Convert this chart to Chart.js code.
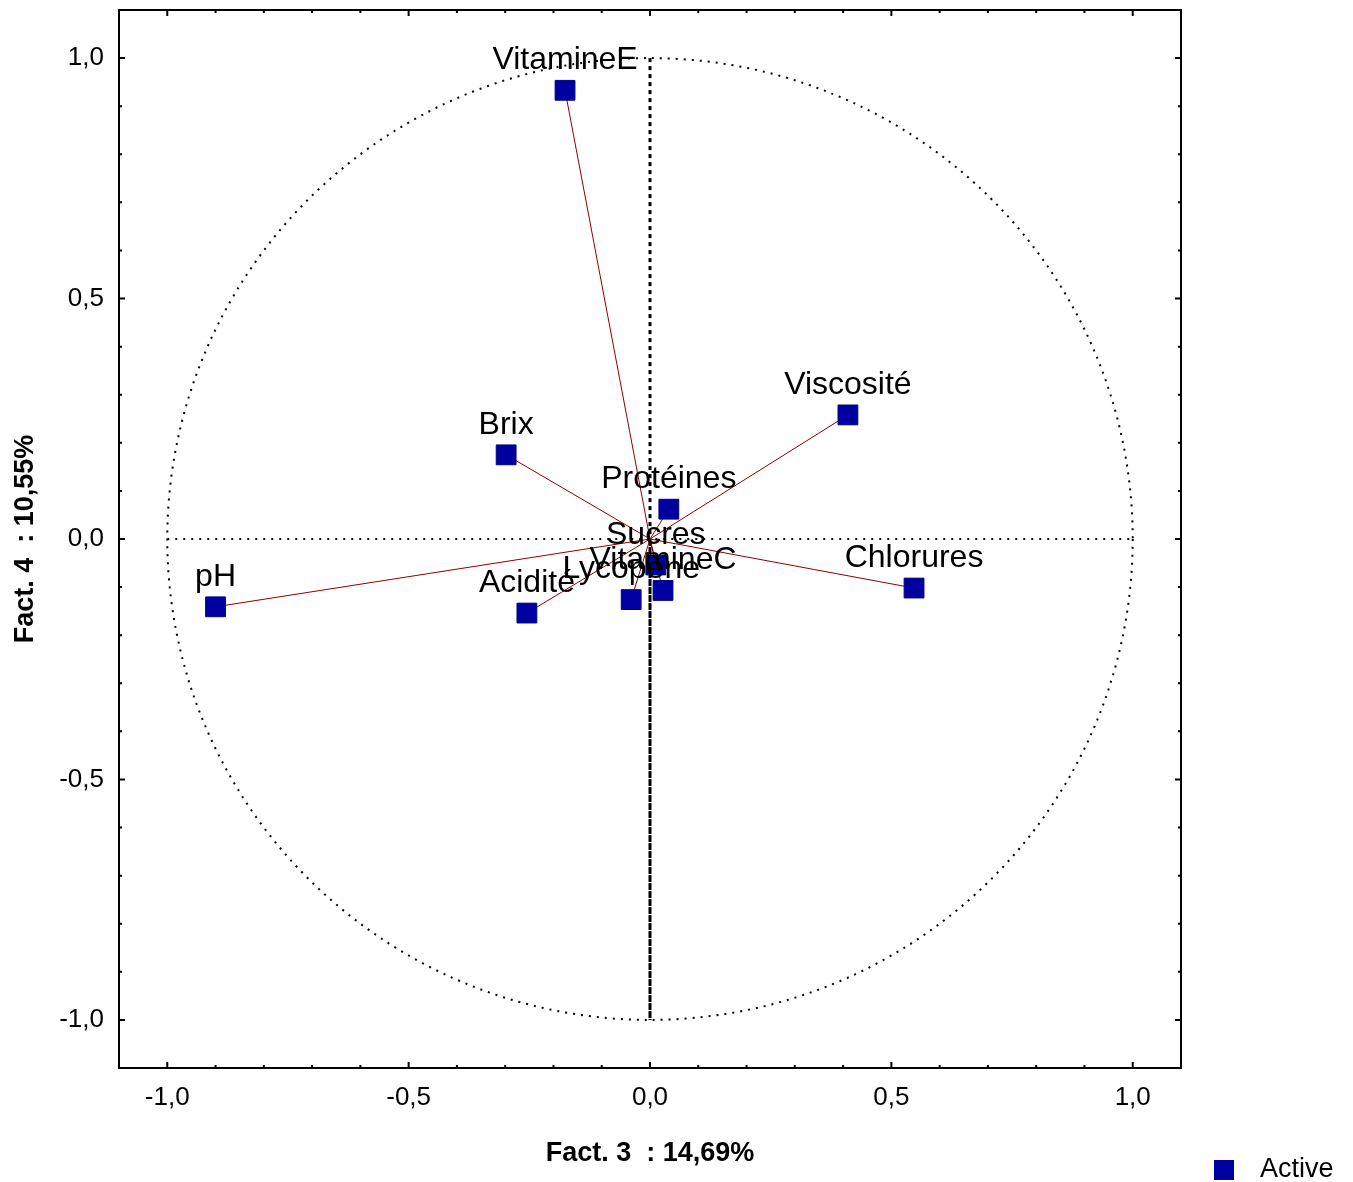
<!DOCTYPE html>
<html>
<head>
<meta charset="utf-8">
<script src="https://cdn.jsdelivr.net/npm/chart.js@4.4.0/dist/chart.umd.min.js"></script>
<style>
  html, body { margin: 0; padding: 0; background: #fff; }
  #wrap { width: 1353px; height: 1182px; }
</style>
</head>
<body>
<div id="wrap"><canvas id="chart" width="1353" height="1182"></canvas></div>
<script>
"use strict";

// variable names and their coordinates on factors 3 and 4
const NAMES = ["VitamineE", "Viscosité", "Brix", "Protéines", "Sucres", "VitamineC", "Lycopène", "Chlorures", "pH", "Acidité"];
const FACT3 = [-0.176, 0.410, -0.298, 0.039, 0.012, 0.027, -0.039, 0.547, -0.900, -0.255];
const FACT4 = [0.933, 0.258, 0.175, 0.062, -0.054, -0.107, -0.126, -0.102, -0.141, -0.154];

const X_TICKS = [-1.0, -0.5, 0.0, 0.5, 1.0];
const Y_TICKS = [-1.0, -0.5, 0.0, 0.5, 1.0];
const AXIS_MIN = -1.1, AXIS_MAX = 1.1;

const X_TITLE = "Fact. 3  : 14,69%";
const Y_TITLE = "Fact. 4  : 10,55%";
const SERIES_LABEL = "Active";

const BLUE = "#0000a0";
const RED = "#8b0000";
const FONT = "Arial, 'Liberation Sans', sans-serif";

const fmt = (v) => v.toFixed(1).replace(".", ",");

// one segment from the origin to each variable
const vectorSets = NAMES.map((n, i) => ({
  type: "line",
  label: "_" + n,
  data: [{ x: 0, y: 0 }, { x: FACT3[i], y: FACT4[i] }],
  borderColor: RED,
  borderWidth: 1,
  pointRadius: 0,
  fill: false,
  order: 2,
}));

const pointSet = {
  type: "scatter",
  label: SERIES_LABEL,
  data: NAMES.map((n, i) => ({ x: FACT3[i], y: FACT4[i] })),
  pointStyle: "rect",
  pointRadius: 14,
  pointHoverRadius: 14,
  backgroundColor: BLUE,
  borderColor: "#000080",
  borderWidth: 1,
  order: 1,
};

// unit circle, axis cross, frame with inward ticks
const decor = {
  id: "decor",
  beforeDatasetsDraw(chart) {
    const { ctx, scales: { x, y } } = chart;
    const cx = x.getPixelForValue(0), cy = y.getPixelForValue(0);
    const rx = x.getPixelForValue(1) - cx, ry = cy - y.getPixelForValue(1);
    ctx.save();
    ctx.strokeStyle = "#000";

    ctx.lineWidth = 2;
    ctx.setLineDash([2, 6]);
    ctx.beginPath();
    ctx.ellipse(cx, cy, rx, ry, 0, 0, Math.PI * 2);
    ctx.stroke();

    ctx.beginPath();
    ctx.moveTo(x.getPixelForValue(-1), cy);
    ctx.lineTo(x.getPixelForValue(1), cy);
    ctx.stroke();

    ctx.lineWidth = 3;
    ctx.setLineDash([4, 4]);
    ctx.beginPath();
    ctx.moveTo(cx, y.getPixelForValue(1));
    ctx.lineTo(cx, cy);
    ctx.stroke();

    ctx.setLineDash([7, 1]);
    ctx.beginPath();
    ctx.moveTo(cx, cy);
    ctx.lineTo(cx, y.getPixelForValue(-1));
    ctx.stroke();
    ctx.restore();
  },
  afterDraw(chart) {
    const { ctx, chartArea: a, scales: { x, y } } = chart;
    ctx.save();
    ctx.strokeStyle = "#000";
    ctx.lineWidth = 2;
    ctx.strokeRect(a.left, a.top, a.right - a.left, a.bottom - a.top);
    for (let k = -10; k <= 10; k++) {
      const v = k / 10;
      const len = k % 5 === 0 ? 6 : 3;
      const px = x.getPixelForValue(v), py = y.getPixelForValue(v);
      ctx.beginPath();
      ctx.moveTo(px, a.bottom); ctx.lineTo(px, a.bottom - len);
      ctx.moveTo(px, a.top); ctx.lineTo(px, a.top + len);
      ctx.moveTo(a.left, py); ctx.lineTo(a.left + len, py);
      ctx.moveTo(a.right, py); ctx.lineTo(a.right - len, py);
      ctx.stroke();
    }

    // variable names above their squares
    const meta = chart.getDatasetMeta(chart.data.datasets.indexOf(pointSet));
    ctx.fillStyle = "#000";
    ctx.font = "32px " + FONT;
    ctx.textAlign = "center";
    ctx.textBaseline = "middle";
    meta.data.forEach((pt, i) => {
      ctx.fillText(NAMES[i], pt.x, pt.y - 30);
    });

    // legend, bottom right
    ctx.fillStyle = BLUE;
    ctx.fillRect(1214, 1160, 20, 20);
    ctx.fillStyle = "#000";
    ctx.font = "27px " + FONT;
    ctx.textAlign = "left";
    ctx.fillText(SERIES_LABEL, 1260, 1170);
    ctx.restore();
  },
};

new Chart(document.getElementById("chart"), {
  data: { datasets: [pointSet, ...vectorSets] },
  options: {
    responsive: false,
    animation: false,
    layout: { autoPadding: false, padding: { left: 0, top: 10, right: 172, bottom: 0 } },
    plugins: {
      legend: { display: false },
      tooltip: { enabled: false },
    },
    scales: {
      x: {
        type: "linear",
        min: AXIS_MIN,
        max: AXIS_MAX,
        afterBuildTicks: (s) => { s.ticks = X_TICKS.map(v => ({ value: v })); },
        afterFit: (s) => { s.height = 114; s.paddingLeft = 0; s.paddingRight = 0; },
        grid: { display: false, drawTicks: false },
        border: { display: false },
        ticks: { color: "#000", font: { size: 26, family: FONT }, padding: 14, maxRotation: 0, callback: (v) => fmt(v) },
        title: { display: true, text: X_TITLE, color: "#000", font: { size: 27, weight: "bold", family: FONT }, padding: 12 },
      },
      y: {
        type: "linear",
        min: AXIS_MIN,
        max: AXIS_MAX,
        afterBuildTicks: (s) => { s.ticks = Y_TICKS.map(v => ({ value: v })); },
        afterFit: (s) => { s.width = 119; s.paddingTop = 0; s.paddingBottom = 0; },
        grid: { display: false, drawTicks: false },
        border: { display: false },
        ticks: { color: "#000", font: { size: 26, family: FONT }, padding: 15, callback: (v) => fmt(v) },
        title: { display: true, text: Y_TITLE, color: "#000", font: { size: 27, weight: "bold", family: FONT }, padding: 9 },
      },
    },
  },
  plugins: [decor],
});
</script>
</body>
</html>
